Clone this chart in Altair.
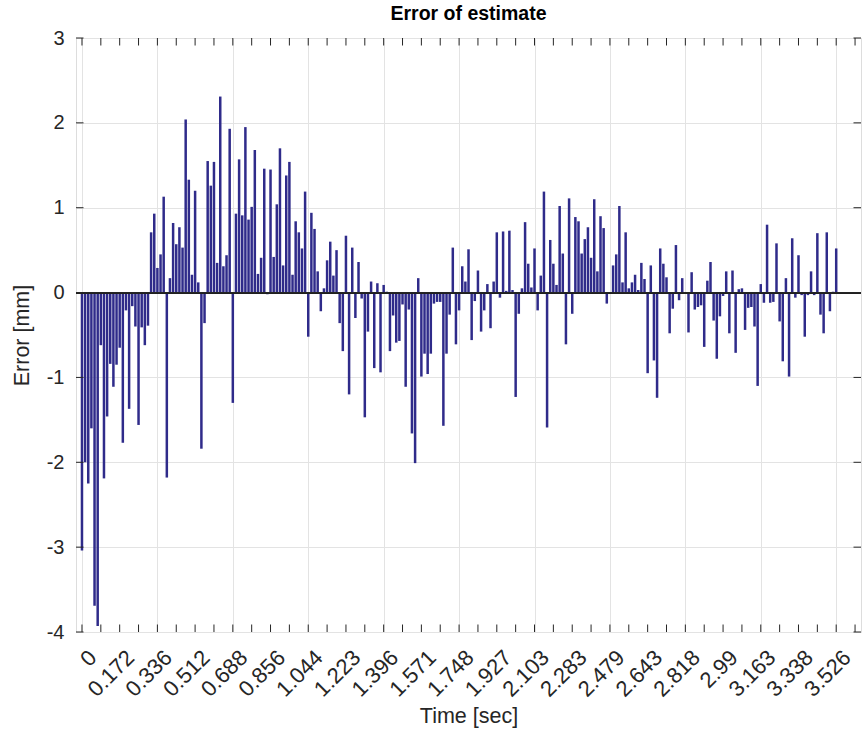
import altair as alt
import pandas as pd

# Sample time stamps shown on every 12th sample
time_labels = ["0", "0.172", "0.336", "0.512", "0.688", "0.856", "1.044",
               "1.223", "1.396", "1.571", "1.748", "1.927", "2.103", "2.283",
               "2.479", "2.643", "2.818", "2.99", "3.163", "3.338", "3.526"]

# Estimation error per sample [mm], 12 samples per row
error_mm = [
    -3.04, -2.00, -2.25, -1.60, -3.69, -3.93, -0.62, -2.19, -1.46, -0.84, -1.11, -0.85,
    -0.65, -1.77, -0.21, -1.37, -0.16, -0.40, -1.56, -0.41, -0.62, -0.39, 0.71, 0.93,
    0.29, 0.45, 1.13, -2.18, 0.17, 0.82, 0.57, 0.77, 0.53, 2.04, 1.33, 0.21,
    1.20, 0.12, -1.84, -0.36, 1.55, 1.26, 1.54, 0.35, 2.31, 0.31, 0.44, 1.93,
    -1.30, 0.93, 1.57, 0.91, 1.95, 0.86, 1.01, 1.68, 0.22, 0.41, 1.46, -0.02,
    1.45, 0.42, 1.04, 1.70, 0.32, 1.38, 1.54, 0.21, 0.84, 0.71, 0.52, 1.19,
    -0.52, 0.94, 0.75, 0.25, -0.22, 0.05, 0.38, 0.60, 0.20, 0.50, -0.36, -0.69,
    0.67, -1.20, 0.53, -0.30, 0.36, -0.07, -1.47, -0.46, 0.13, -0.89, 0.11, -0.94,
    0.09, 0.01, -0.69, -0.27, -0.59, -0.57, -0.14, -1.11, -0.20, -1.66, -2.01, 0.17,
    -0.99, -0.72, -0.96, -0.72, -0.13, -0.11, -0.11, -1.57, -0.72, -0.26, 0.53, -0.61,
    -0.21, 0.31, 0.13, 0.51, -0.56, -0.10, 0.26, -0.46, -0.21, 0.10, -0.42, 0.13,
    0.71, -0.06, 0.72, 0.02, 0.73, 0.03, -1.23, -0.25, 0.05, 0.83, 0.34, 0.06,
    0.52, -0.21, 0.20, 1.19, -1.59, 0.62, 0.34, 0.09, 1.02, 0.46, -0.61, 1.11,
    -0.25, 0.89, 0.84, 0.46, 0.63, 0.77, 0.41, 1.10, 0.25, 0.90, 0.76, -0.13,
    0.00, 0.32, 0.45, 1.02, 0.12, 0.71, 0.05, 0.12, 0.21, 0.03, 0.35, 0.16,
    -0.95, 0.32, -0.80, -1.24, 0.52, 0.34, 0.18, -0.48, -0.19, 0.56, -0.09, 0.17,
    0.00, -0.47, 0.24, -0.20, -0.17, -0.15, -0.64, 0.14, 0.36, -0.33, -0.78, -0.28,
    -0.04, 0.25, -0.48, 0.26, -0.71, 0.04, 0.05, -0.44, -0.18, -0.17, -0.40, -1.10,
    0.10, -0.12, 0.80, -0.12, -0.11, 0.58, -0.34, -0.81, 0.17, -0.99, 0.64, -0.06,
    0.44, -0.03, -0.52, -0.03, 0.25, -0.03, 0.70, -0.26, -0.48, 0.71, -0.22, 0.01,
    0.52,
]

x_ticks = list(range(0, 247, 6))
y_ticks = list(range(-4, 4))
label_every = 12

W, H = 785, 594
FONT = "Liberation Sans"
AXIS_COLOR = "#262626"
BAR_COLOR = "#2f2b8a"

df = pd.DataFrame({"sample": list(range(len(error_mm))), "error": error_mm})
# tick positions share the field names of the data so the layers share axes
xt = pd.DataFrame({"sample": x_ticks})
yt = pd.DataFrame({"error": y_ticks})
xl = pd.DataFrame({
    "sample": [i * label_every for i in range(len(time_labels))],
    "label": time_labels,
})

x_scale = alt.Scale(domain=[-0.31, 246.3], nice=False, zero=False)
y_scale = alt.Scale(domain=[-4, 3], nice=False, zero=False)

x_axis = alt.Axis(
    values=x_ticks,
    labels=False,
    ticks=False,
    domain=False,
    grid=True,
    gridColor={"condition": {"test": "datum.value % 12 != 0", "value": "#b8b8b8"},
               "value": "#e3e3e3"},
    gridDash={"condition": {"test": "datum.value % 12 != 0", "value": [1.5, 5]},
              "value": []},
    title="Time [sec]",
    titleFont=FONT,
    titleFontSize=21.5,
    titleFontWeight="normal",
    titleColor=AXIS_COLOR,
    titleBaseline="alphabetic",
    titleY=90,
)

y_axis = alt.Axis(
    values=y_ticks,
    labelExpr="'' + datum.value",
    ticks=False,
    domain=False,
    grid=True,
    gridColor="#e3e3e3",
    labelFontSize=20,
    labelFont=FONT,
    labelColor=AXIS_COLOR,
    labelPadding=12,
    labelOverlap=False,
    title="Error [mm]",
    titleFont=FONT,
    titleFontSize=21.5,
    titleFontWeight="normal",
    titleColor=AXIS_COLOR,
    titleBaseline="alphabetic",
    titleX=-48,
    titleY=H / 2,
)

bars = alt.Chart(df).mark_bar(size=2.5, color=BAR_COLOR).encode(
    x=alt.X("sample:Q", scale=x_scale, axis=x_axis),
    y=alt.Y("error:Q", scale=y_scale, axis=y_axis),
    y2=alt.datum(0),
)

baseline = alt.Chart(df).mark_rule(color=AXIS_COLOR, strokeWidth=1).encode(
    y=alt.datum(0),
    x=alt.value(0),
    x2=alt.value(W),
)

tick_len = 7.5
x_ticks_bottom = alt.Chart(xt).mark_rule(color=AXIS_COLOR, strokeWidth=1).encode(
    x=alt.X("sample:Q"),
    y=alt.value(H), y2=alt.value(H - tick_len),
)
x_ticks_top = alt.Chart(xt).mark_rule(color=AXIS_COLOR, strokeWidth=1).encode(
    x=alt.X("sample:Q"),
    y=alt.value(0), y2=alt.value(tick_len),
)
y_ticks_left = alt.Chart(yt).mark_rule(color=AXIS_COLOR, strokeWidth=1).encode(
    y=alt.Y("error:Q"),
    x=alt.value(0), x2=alt.value(tick_len),
)
y_ticks_right = alt.Chart(yt).mark_rule(color=AXIS_COLOR, strokeWidth=1).encode(
    y=alt.Y("error:Q"),
    x=alt.value(W), x2=alt.value(W - tick_len),
)

# rotated time labels under every 12th sample
x_labels = alt.Chart(xl).mark_text(
    angle=315, align="right", baseline="top", font=FONT, fontSize=22,
    color=AXIS_COLOR, xOffset=4,
).encode(
    x=alt.X("sample:Q"),
    y=alt.value(H + 15),
    text="label:N",
)

chart = alt.layer(
    bars, baseline, x_ticks_bottom, x_ticks_top, y_ticks_left, y_ticks_right,
    x_labels,
).properties(
    width=W,
    height=H,
    title=alt.TitleParams(
        "Error of estimate",
        font=FONT,
        fontSize=19.5,
        fontWeight="bold",
        color="#000000",
        anchor="middle",
        frame="group",
        baseline="alphabetic",
        offset=0,
        dy=11,
    ),
    autosize=alt.AutoSizeParams(type="none"),
    padding={"left": 76, "top": 38, "right": 4, "bottom": 118},
).configure_view(
    stroke=AXIS_COLOR, strokeWidth=1
).configure(background="white")

chart.save("out.html", embed_options={"renderer": "svg", "actions": False})
